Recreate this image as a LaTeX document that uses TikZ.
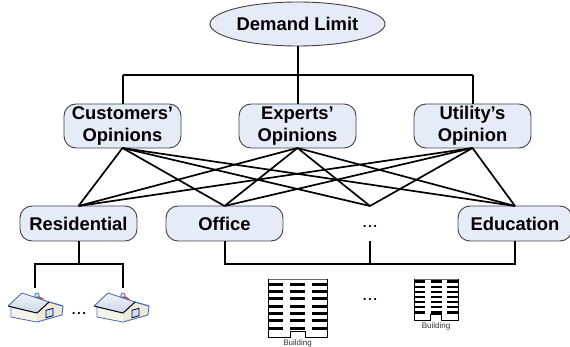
\documentclass[tikz,border=0pt]{standalone}
\usepackage{fontspec}
\setmainfont{Liberation Sans}
\usetikzlibrary{shapes.geometric}
\definecolor{boxfill}{HTML}{E6ECF7}
\definecolor{boxline}{HTML}{404040}
\definecolor{houseblue}{HTML}{4A70B0}
\definecolor{wallfront}{HTML}{F4F4E8}
\definecolor{wallside}{HTML}{EAEAD6}
\definecolor{rooflight}{HTML}{F2F4F9}
\definecolor{roofdark}{HTML}{CCD6E6}
\definecolor{doorfill}{HTML}{D4E0F0}
\tikzset{
 x=1pt,y=-1pt,
 every node/.style={inner sep=0pt,outer sep=0pt},
 box/.style={draw=boxline,line width=0.9pt,fill=boxfill,rounded corners=12pt,align=center,font=\fontsize{18.4}{22}\selectfont\bfseries,text=black},
 topbox/.style={box,minimum width=117pt,minimum height=44pt},
 lowbox/.style={box,minimum width=117pt,minimum height=35pt},
 oval/.style={draw=boxline,line width=0.9pt,fill=boxfill,ellipse,minimum width=175pt,minimum height=44pt,font=\fontsize{18.4}{22}\selectfont\bfseries},
 wire/.style={draw=black,line width=1.7pt},
 bar/.style={draw=black,line width=2pt},
 dotsnode/.style={font=\fontsize{19}{20}\selectfont},
 captionnode/.style={font=\fontsize{8}{10}\selectfont,text=black!80},
 pics/house/.style={code={
  % body
  \fill[wallside,draw=houseblue,line width=0.9pt,line join=round] (3,14) -- (3,24) -- (29,29) -- (54,22) -- (55,13) -- (41,9) -- (29,20) -- cycle;
  \fill[wallfront] (3.6,15) -- (29,21) -- (29,28.4) -- (3.6,23.4) -- cycle;
  % chimney
  \fill[black] (25,5) -- (29,2) -- (35,6) -- (31,8) -- cycle;
  \fill[red!75!white] (29,4) -- (34,4.5) -- (36,7) -- (31,8) -- cycle;
  \fill[doorfill,draw=houseblue,line width=0.7pt] (29,2.2) circle (2.2);
  % roof
  \shade[top color=rooflight,bottom color=roofdark] (0,13) -- (14,0) -- (41,9) -- (29,20) -- cycle;
  \draw[houseblue,line width=0.9pt,line join=round] (0,13) -- (14,0) -- (41,9) -- (55,13);
  \draw[black,line width=0.9pt] (0,13) -- (29,20) -- (41,9);
  % door
  \fill[doorfill,draw=black!70!blue,line width=0.8pt] (38,17.3) -- (45,15.3) -- (45,22.7) -- (38,24.7) -- cycle;
 }},
 pics/tower/.style n args={7}{code={
  % #1 column width, #2 gap, #3 rows, #4 row pitch, #5 total height, #6 first row y, #7 row thickness
  \pgfmathsetmacro\towerw{3*#1+2*#2}
  \foreach \c in {0,1,2}{
   \foreach \r in {1,...,#3}{
    \fill[black] ({\c*(#1+#2)},{#6+(\r-1)*#4-#7/2}) rectangle ++(#1,#7);
   }
  }
  \draw[black!60,line width=0.8pt] (0,0) -- (\towerw,0);
  \draw[black,line width=0.8pt] (0,0) -- (0,#5) -- ({#1+#2},#5) -- ({#1+#2},#5-6) -- ({2*#1+#2},#5-6) -- ({2*#1+#2},#5) -- (\towerw,#5) -- (\towerw,0);
 }},
}
\begin{document}
\begin{tikzpicture}
\useasboundingbox (0,0) rectangle (570,347);
\node[oval] (demand) at (297.5,24) {Demand Limit};
\node[topbox] (cust) at (122.5,126) {Customers’\\Opinions};
\node[topbox] (expt) at (297.5,126) {Experts’\\Opinions};
\node[topbox] (util) at (472.5,126) {Utility’s\\Opinion};
\node[lowbox] (resi) at (78.5,223.5) {Residential};
\node[lowbox] (offi) at (224.5,223.5) {Office};
\node[dotsnode] (more) at (370,226) {...};
\coordinate (moretop) at (370,206);
\coordinate (morebot) at (370,241);
\node[lowbox,minimum width=114pt] (educ) at (515,223.5) {Education};
% buses
\coordinate (busL) at (cust.north |- 0,75);
\coordinate (busM) at (demand.south |- 0,75);
\coordinate (busR) at (util.north |- 0,75);
\draw[bar] (busL) -- (busR);
\draw[bar] (demand.south) -- (expt.north);
\draw[bar] (busL) -- (cust.north);
\draw[bar] (busR) -- (util.north);
% mesh
\foreach \a in {cust,expt,util}{
 \foreach \b in {resi.north,offi.north,moretop,educ.north}{
  \draw[wire] (\a.south) -- (\b);
 }
}
% residential
\coordinate (h1) at (35,288);
\coordinate (h2) at (123,288);
\coordinate (rbus) at (resi.south |- 0,264);
\draw[bar] (resi.south) -- (rbus);
\draw[bar] (h1) -- (h1 |- rbus) -- (h2 |- rbus) -- (h2);
\pic at (8,293) {house};
\pic at (94,293) {house};
\node[dotsnode] (hdots) at (79,313) {...};
% buildings
\coordinate (obus1) at (offi.south |- 0,264);
\coordinate (obus2) at (educ.south |- 0,264);
\coordinate (obus3) at (morebot |- 0,264);
\draw[bar] (offi.south) -- (obus1) -- (obus2) -- (educ.south);
\draw[bar] (morebot) -- (obus3);
\pic at (268,279) {tower={15}{7}{7}{7.33}{58}{5.3}{3}};
\node[captionnode] (cap1) at (297.5,343) {Building};
\pic at (414,279) {tower={11}{5.5}{7}{5.1}{41}{2.7}{2.4}};
\node[captionnode] (cap2) at (436,326) {Building};
\node[dotsnode] (bdots) at (370,299) {...};
\end{tikzpicture}
\end{document}
